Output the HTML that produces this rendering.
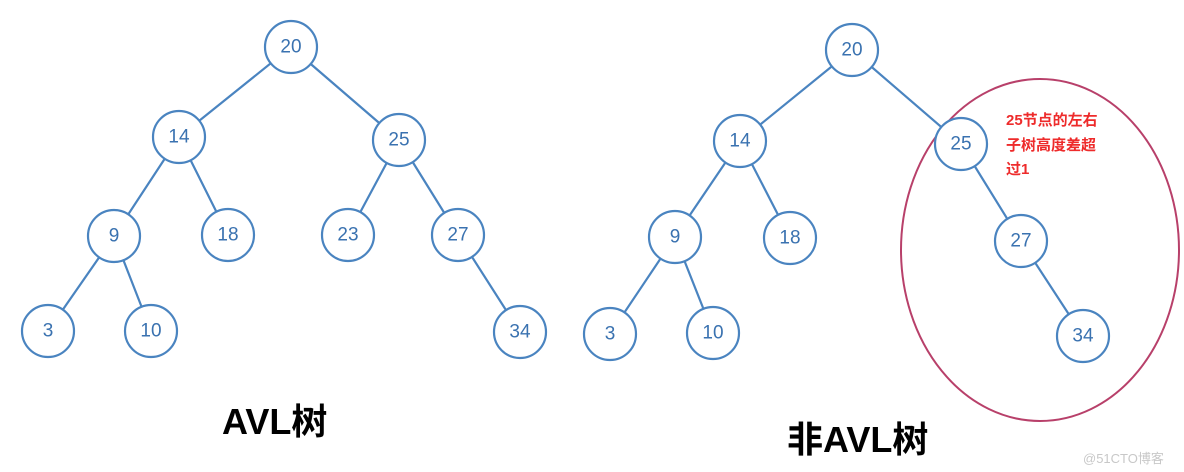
<!DOCTYPE html>
<html><head><meta charset="utf-8"><style>
html,body{margin:0;padding:0;background:#fff;}
svg{display:block}
.n circle{fill:#fff;stroke:#4a84c0;stroke-width:2.2}
.n text{font-family:"Liberation Sans",sans-serif;font-size:19px;fill:#3a72b0;text-anchor:middle;dominant-baseline:central}
line{stroke:#4a84c0;stroke-width:2.2;stroke-linecap:round}
</style></head><body>
<svg width="1184" height="472" viewBox="0 0 1184 472" xmlns="http://www.w3.org/2000/svg">
<g>
<line x1="291" y1="47" x2="179" y2="137"/><line x1="291" y1="47" x2="399" y2="140"/>
<line x1="179" y1="137" x2="114" y2="236"/><line x1="179" y1="137" x2="228" y2="235"/>
<line x1="399" y1="140" x2="348" y2="235"/><line x1="399" y1="140" x2="458" y2="235"/>
<line x1="114" y1="236" x2="48" y2="331"/><line x1="114" y1="236" x2="151" y2="331"/>
<line x1="458" y1="235" x2="520" y2="332"/>
<line x1="852" y1="50" x2="740" y2="141"/><line x1="852" y1="50" x2="961" y2="144"/>
<line x1="740" y1="141" x2="675" y2="237"/><line x1="740" y1="141" x2="790" y2="238"/>
<line x1="675" y1="237" x2="610" y2="334"/><line x1="675" y1="237" x2="713" y2="333"/>
<line x1="961" y1="144" x2="1021" y2="241"/><line x1="1021" y1="241" x2="1083" y2="336"/>
</g>
<ellipse cx="1040" cy="250" rx="139" ry="171" fill="none" stroke="#b8406a" stroke-width="2"/>
<g class="n">
<circle cx="291" cy="47" r="26"/><text x="291" y="47">20</text>
<circle cx="179" cy="137" r="26"/><text x="179" y="137">14</text>
<circle cx="399" cy="140" r="26"/><text x="399" y="140">25</text>
<circle cx="114" cy="236" r="26"/><text x="114" y="236">9</text>
<circle cx="228" cy="235" r="26"/><text x="228" y="235">18</text>
<circle cx="348" cy="235" r="26"/><text x="348" y="235">23</text>
<circle cx="458" cy="235" r="26"/><text x="458" y="235">27</text>
<circle cx="48" cy="331" r="26"/><text x="48" y="331">3</text>
<circle cx="151" cy="331" r="26"/><text x="151" y="331">10</text>
<circle cx="520" cy="332" r="26"/><text x="520" y="332">34</text>
<circle cx="852" cy="50" r="26"/><text x="852" y="50">20</text>
<circle cx="740" cy="141" r="26"/><text x="740" y="141">14</text>
<circle cx="961" cy="144" r="26"/><text x="961" y="144">25</text>
<circle cx="675" cy="237" r="26"/><text x="675" y="237">9</text>
<circle cx="790" cy="238" r="26"/><text x="790" y="238">18</text>
<circle cx="1021" cy="241" r="26"/><text x="1021" y="241">27</text>
<circle cx="610" cy="334" r="26"/><text x="610" y="334">3</text>
<circle cx="713" cy="333" r="26"/><text x="713" y="333">10</text>
<circle cx="1083" cy="336" r="26"/><text x="1083" y="336">34</text>
</g>
<g font-family="'Liberation Sans','Noto Sans CJK SC',sans-serif" font-weight="bold" font-size="15" fill="#ee2b2b">
<text x="1006" y="125">25节点的左右</text>
<text x="1006" y="150">子树高度差超</text>
<text x="1006" y="174">过1</text>
</g>
<g font-family="'Liberation Sans','Noto Sans CJK SC',sans-serif" font-weight="bold" font-size="36" fill="#000">
<text x="222" y="434">AVL树</text>
<text x="787" y="452">非AVL树</text>
</g>
<text x="1083" y="463" font-family="'Liberation Sans','Noto Sans CJK SC',sans-serif" font-size="13" fill="#c8c8c8">@51CTO博客</text>
</svg>
</body></html>
